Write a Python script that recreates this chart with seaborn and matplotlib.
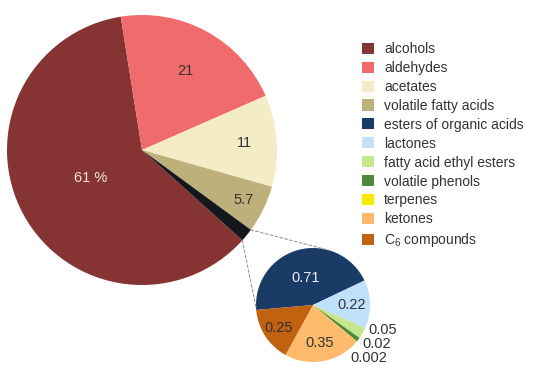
import numpy as np
import matplotlib
matplotlib.use("Agg")
import matplotlib.pyplot as plt
from matplotlib.patches import Patch, ConnectionPatch
import seaborn as sns

# Main groups of volatile compounds (share of total, %)
main_labels = ["alcohols", "aldehydes", "acetates", "volatile fatty acids"]
main_values = [61, 21, 11, 5.7]

# Minor groups, shown in the exploded pie (share of total, %)
minor_labels = ["esters of organic acids", "lactones", "fatty acid ethyl esters",
                "volatile phenols", "terpenes", "ketones", "C$_6$ compounds"]
minor_values = [0.71, 0.22, 0.05, 0.02, 0.002, 0.35, 0.25]
minor_texts = ["0.71", "0.22", "0.05", "0.02", "0.002", "0.35", "0.25"]

main_colors = ["#863333", "#f06b6b", "#f3ecc6", "#beb07b"]
other_color = "#14171b"
minor_colors = ["#1b3b67", "#c0e1fa", "#c6e68c", "#4d8a3a", "#ffe800",
                "#fdbb6b", "#c0620f"]

sns.set_theme(style="white")
plt.rcParams["font.family"] = ["Liberation Sans", "DejaVu Sans"]
plt.rcParams["mathtext.fontset"] = "custom"
plt.rcParams["mathtext.rm"] = "Liberation Sans"
plt.rcParams["mathtext.it"] = "Liberation Sans:italic"

W, H = 536, 365
fig = plt.figure(figsize=(W / 100, H / 100), dpi=100)
fig.patch.set_facecolor("white")


def px_axes(cx, cy, r):
    """Square axes centred on a pixel position (y measured from top)."""
    return fig.add_axes([(cx - r) / W, (H - cy - r) / H, 2 * r / W, 2 * r / H])


ax_main = px_axes(142, 150, 135)
ax_minor = px_axes(313, 305, 57)

# ---- main pie: the minor groups are pooled into one dark wedge ----
other_total = sum(minor_values)
vals = main_values + [other_total]
wedges, _ = ax_main.pie(vals, colors=main_colors + [other_color],
                        startangle=318, counterclock=False, radius=1,
                        wedgeprops=dict(linewidth=0))

label_dist = [0.43, 0.67, 0.76, 0.84]
for i, (w, v) in enumerate(zip(wedges[:4], main_values)):
    mid = np.deg2rad((w.theta1 + w.theta2) / 2)
    d = label_dist[i]
    txt = f"{v:g} %" if i == 0 else f"{v:g}"
    ax_main.text(d * np.cos(mid), d * np.sin(mid), txt, ha="center", va="center",
                 fontsize=10.5, color="#f4e4e4" if i == 0 else "#333333")
ax_main.set_xlim(-1, 1)
ax_main.set_ylim(-1, 1)
ax_main.set_aspect("equal")
ax_main.axis("off")

# ---- exploded pie of the minor groups ----
mw, _ = ax_minor.pie(minor_values, colors=minor_colors, startangle=185,
                     counterclock=False, radius=1,
                     wedgeprops=dict(linewidth=0))
inside = {0: 0.5, 1: 0.68, 5: 0.67, 6: 0.73}
outside = {2: (1.23, -0.44), 3: (1.12, -0.68), 4: (0.98, -0.93)}
for i, w in enumerate(mw):
    mid = np.deg2rad((w.theta1 + w.theta2) / 2)
    if i in inside:
        d = inside[i]
        x, y = d * np.cos(mid), d * np.sin(mid)
    else:
        x, y = outside[i]
    ax_minor.text(x, y, minor_texts[i], ha="center", va="center", fontsize=10.5,
                  color="#e8ecf2" if i == 0 else "#333333", clip_on=False)
ax_minor.set_xlim(-1, 1)
ax_minor.set_ylim(-1, 1)
ax_minor.set_aspect("equal")
ax_minor.axis("off")

# ---- dashed connectors from the pooled wedge to the exploded pie ----
ow = wedges[4]
for ang_a, ang_b in [(ow.theta2, 74), (ow.theta1, 183)]:
    a, b = np.deg2rad(ang_a), np.deg2rad(ang_b)
    con = ConnectionPatch(xyA=(np.cos(a), np.sin(a)), coordsA=ax_main.transData,
                          xyB=(np.cos(b), np.sin(b)), coordsB=ax_minor.transData,
                          color="#9a9a9a", lw=0.8, linestyle=(0, (2.5, 2)))
    fig.add_artist(con)

# ---- legend ----
handles = [Patch(facecolor=c, edgecolor="none") for c in main_colors + minor_colors]
leg = fig.legend(handles, main_labels + minor_labels, loc="upper left",
                 bbox_to_anchor=(362 / W, (H - 42) / H), frameon=False,
                 fontsize=10, handlelength=0.85, handleheight=0.85,
                 handletextpad=0.75, labelspacing=0.355, borderpad=0,
                 borderaxespad=0)
for t in leg.get_texts():
    t.set_color("#333333")

fig.savefig("out.png", dpi=100, facecolor="white")
